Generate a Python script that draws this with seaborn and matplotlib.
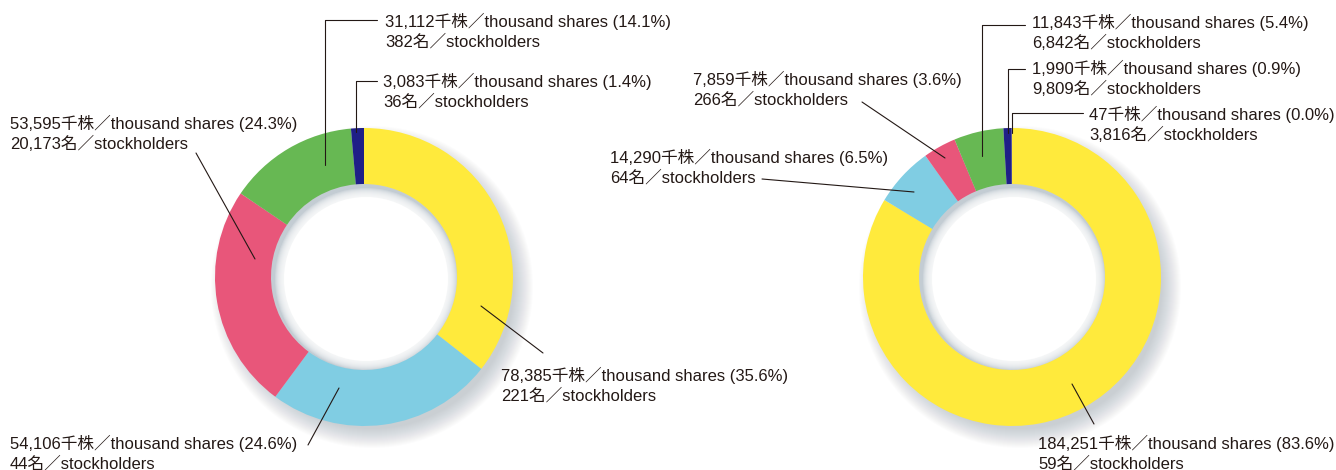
import seaborn as sns
import matplotlib.pyplot as plt
from matplotlib.patches import Circle

# Shareholder composition: thousand shares, percentage, number of stockholders
left_shares = [78385, 54106, 53595, 31112, 3083]
left_pct = [35.6, 24.6, 24.3, 14.1, 1.4]
left_holders = [221, 44, 20173, 382, 36]

right_shares = [184251, 14290, 7859, 11843, 1990, 47]
right_pct = [83.6, 6.5, 3.6, 5.4, 0.9, 0.0]
right_holders = [59, 64, 266, 6842, 9809, 3816]

colors = ["#FFEA3C", "#80CDE3", "#E8567A", "#67B853", "#1F1F87", "#D0D0D0"]

# layout in pixels from top-left: (text x, text y, leader path)
left_layout = [
    (501, 375, [(543, 353), (481, 306)]),
    (10, 443, [(308, 445), (339, 388)]),
    (10, 123, [(196, 153), (255, 259)]),
    (385, 21, [(377, 20), (325, 20), (325, 165)]),
    (383, 81, [(377, 81), (356, 81), (356, 132)]),
]
right_layout = [
    (1038, 443, [(1094, 424), (1072, 384)]),
    (610, 157, [(762, 179), (914, 192)]),
    (693, 79, [(862, 102), (945, 158)]),
    (1032, 22, [(1025, 25), (982, 25), (982, 156)]),
    (1032, 68, [(1025, 69), (1008, 69), (1008, 133)]),
    (1089, 114, [(1083, 113), (1012, 113), (1012, 133)]),
]

W, H = 1336, 470
R_OUT, R_IN = 149, 93
TEXT = "#231815"

sns.set_theme(style="white")
plt.rcParams["font.family"] = ["Liberation Sans", "Noto Sans CJK JP"]

fig = plt.figure(figsize=(W / 100, H / 100), dpi=100)
ax = fig.add_axes([0, 0, 1, 1])


def Y(y):
    return H - y


def donut(cx, cy, shares, pct, holders, layout):
    c = (cx, Y(cy))
    # soft outer shadow, mostly lower right
    for i in range(20):
        ax.add_patch(Circle((cx + 8, Y(cy) - 10), R_OUT + 12 - i, color="#8393a0",
                            alpha=0.022, lw=0, zorder=0))
    # faint inner shadow of the hole
    ax.add_patch(Circle(c, R_IN, color="#c3ccd3", lw=0, zorder=1))
    for i in range(10):
        ax.add_patch(Circle((cx + 2, Y(cy) - 2), R_IN - 11 + i, color="white",
                            alpha=0.2, lw=0, zorder=1))
    ax.add_patch(Circle((cx + 2, Y(cy) - 2), R_IN - 11, color="white", lw=0, zorder=1))
    ax.pie(shares, colors=colors[:len(shares)], startangle=90, counterclock=False,
           center=c, radius=R_OUT,
           wedgeprops=dict(width=R_OUT - R_IN, linewidth=0, zorder=3))
    for s, p, h, (tx, ty, path) in zip(shares, pct, holders, layout):
        ax.text(tx, Y(ty), f"{s:,}千株／thousand shares ({p:.1f}%)", fontsize=12,
                color=TEXT, ha="left", va="center", zorder=5)
        ax.text(tx, Y(ty + 21), f"{h:,}名／stockholders", fontsize=12,
                color=TEXT, ha="left", va="center", zorder=5)
        xs = [x for x, _ in path]
        ys = [Y(y) for _, y in path]
        ax.plot(xs, ys, color=TEXT, lw=0.8, zorder=4)


donut(364, 277, left_shares, left_pct, left_holders, left_layout)
donut(1012, 277, right_shares, right_pct, right_holders, right_layout)

ax.set_xlim(0, W)
ax.set_ylim(0, H)
ax.set_aspect("auto")
ax.axis("off")

fig.savefig("out.png", dpi=100, facecolor="white")
